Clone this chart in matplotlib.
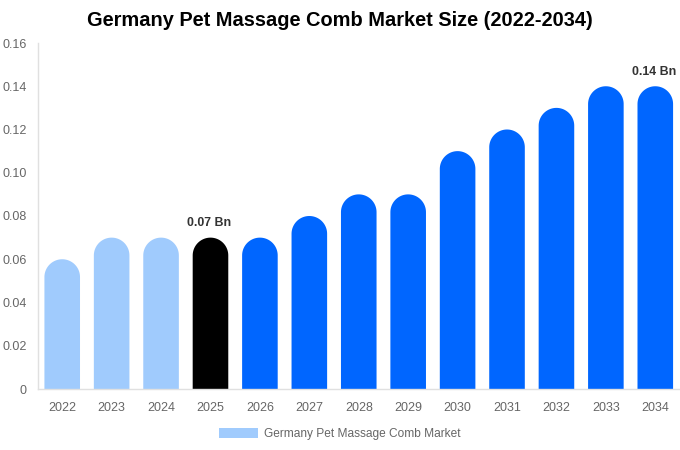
import matplotlib
matplotlib.use("Agg")
import numpy as np
import matplotlib.pyplot as plt
from matplotlib.patches import PathPatch, Patch
from matplotlib.path import Path

plt.rcParams['font.family'] = ['Liberation Sans', 'DejaVu Sans']

years = ["2022", "2023", "2024", "2025", "2026", "2027", "2028",
         "2029", "2030", "2031", "2032", "2033", "2034"]
values = [0.06, 0.07, 0.07, 0.07, 0.07, 0.08, 0.09, 0.09, 0.11, 0.12, 0.13, 0.14, 0.14]
colors = ["#a0cbfd"] * 3 + ["#000000"] + ["#0066ff"] * 9
labels = {3: "0.07 Bn", 12: "0.14 Bn"}
yticks = [0, 0.02, 0.04, 0.06, 0.08, 0.10, 0.12, 0.14, 0.16]
ytick_labels = ["0", "0.02", "0.04", "0.06", "0.08", "0.10", "0.12", "0.14", "0.16"]
legend_label = "Germany Pet Massage Comb Market"
title = "Germany Pet Massage Comb Market Size (2022-2034)"

W, H = 680, 450
fig = plt.figure(figsize=(W / 100, H / 100), dpi=100)
ax = fig.add_axes([38 / W, (H - 389) / H, (680 - 38) / W, (389 - 43) / H])

bw = 0.72
xs = list(range(len(years)))
ax.set_xlim(-0.49, len(years) - 0.5)
ax.set_ylim(0, 0.16)

# pixel scale for a circular cap
x0, y0 = ax.transData.transform((0, 0))
x1, y1 = ax.transData.transform((1, 1))
px_per_x = x1 - x0
px_per_y = y1 - y0
r_px = bw * px_per_x / 2
r_y = r_px / px_per_y

theta = np.linspace(0, np.pi, 60)
for i, (x, v, c) in enumerate(zip(xs, values, colors)):
    cy = v - r_y
    arc_x = x + (bw / 2) * np.cos(theta)
    arc_y = cy + r_y * np.sin(theta)
    px = np.concatenate([[x + bw / 2], arc_x, [x - bw / 2, x + bw / 2]])
    py = np.concatenate([[0], arc_y, [0, 0]])
    verts = np.column_stack([px, py])
    codes = [Path.MOVETO] + [Path.LINETO] * (len(verts) - 2) + [Path.CLOSEPOLY]
    ax.add_patch(PathPatch(Path(verts, codes), facecolor=c, edgecolor='none'))
    if i in labels:
        ax.annotate(labels[i], (x, v), xytext=(-1, 6), textcoords='offset points',
                    ha='center', va='bottom', fontsize=8.9, fontweight='bold', color='#333333')

ax.set_xticks(xs)
ax.set_xticklabels(years)
ax.set_yticks(yticks)
ax.set_yticklabels(ytick_labels)
ax.tick_params(axis='both', length=0, labelsize=9, labelcolor='#666666')
ax.tick_params(axis='x', pad=9.5)
ax.tick_params(axis='y', pad=8)
for s in ['top', 'right']:
    ax.spines[s].set_visible(False)
for s in ['left', 'bottom']:
    ax.spines[s].set_color('#e0e0e0')
    ax.spines[s].set_linewidth(1)

fig.text(340 / W, 1 - 21 / H, title, ha='center', va='center',
         fontsize=14.4, fontweight='bold', color='#000000')

handle = Patch(facecolor="#a0cbfd", edgecolor='none')
fig.legend([handle], [legend_label], loc='center', bbox_to_anchor=(340 / W, 1 - 434 / H),
           frameon=False, fontsize=8.6, labelcolor='#666666', handlelength=3.3,
           handleheight=0.9, handletextpad=0.5)

fig.savefig("out.png", dpi=100)
